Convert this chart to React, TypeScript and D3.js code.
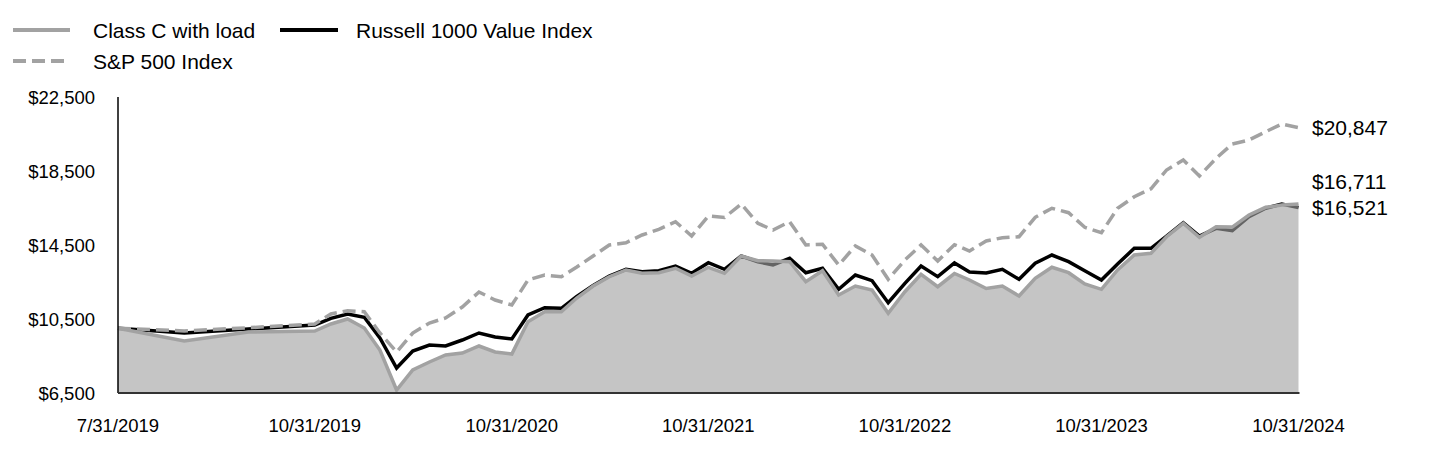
import React from "react";
import * as d3 from "d3";

const seriesNames = ["Class C with load", "Russell 1000 Value Index", "S&P 500 Index"];

// month-end values, 7/31/2019 .. 10/31/2024
const classC = [
  10000, 9311, 9797, 9851, 10230, 10500, 10014, 8824, 6662, 7743, 8176, 8554, 8662, 9041, 8716, 8608,
  10354, 10895, 10895, 11619, 12284, 12786, 13149, 12970, 13003, 13241, 12824, 13295, 12970, 13905,
  13651, 13635, 13597, 12516, 13111, 11797, 12284, 12068, 10808, 11976, 12916, 12246, 12959, 12608,
  12149, 12284, 11743, 12700, 13295, 13003, 12392, 12105, 13149, 13959, 14051, 14949, 15673, 14916,
  15489, 15470, 16122, 16538, 16662, 16711,
];
const russell = [
  10000, 9743, 9959, 10176, 10538, 10770, 10592, 9473, 7851, 8770, 9095, 9041, 9365, 9743, 9527, 9419,
  10716, 11111, 11078, 11705, 12311, 12824, 13186, 13057, 13111, 13365, 12970, 13543, 13186, 13905,
  13597, 13419, 13781, 13003, 13241, 12105, 12878, 12570, 11381, 12430, 13365, 12786, 13527, 13041,
  12986, 13186, 12646, 13511, 13959, 13597, 13111, 12608, 13473, 14322, 14322, 14986, 15705, 14986,
  15403, 15273, 16030, 16484, 16716, 16521,
];
const sp500 = [
  10000, 9851, 10030, 10230, 10770, 10949, 10895, 9743, 8716, 9743, 10284, 10554, 11149, 11959, 11527,
  11257, 12608, 12878, 12786, 13295, 13905, 14500, 14624, 15041, 15349, 15759, 14986, 16068, 15986,
  16716, 15673, 15311, 15759, 14500, 14538, 13419, 14446, 13959, 12646, 13689, 14500, 13635, 14516,
  14176, 14716, 14895, 14949, 15997, 16484, 16246, 15457, 15165, 16484, 17111, 17538, 18554, 19095,
  18230, 19186, 19959, 20176, 20624, 21041, 20847,
];

const xTickLabels = ["7/31/2019", "10/31/2019", "10/31/2020", "10/31/2021", "10/31/2022", "10/31/2023", "10/31/2024"];
const yTickValues = [6500, 10500, 14500, 18500, 22500];

const FONT = "'Liberation Sans', Arial, Helvetica, sans-serif";
const GRAY = "#a2a2a2";
const W = 1440;
const H = 468;
const left = 118;
const right = 1298.5;
const top = 97;
const bottom = 393;

export default function App() {
  const parse = d3.timeParse("%m/%d/%Y");
  const tickDates = xTickLabels.map((s) => parse(s) as Date);
  // month-end dates from 7/31/2019 to 10/31/2024
  const dates = d3
    .timeMonth.range(new Date(2019, 7, 1), new Date(2024, 10, 2))
    .map((d) => d3.timeDay.offset(d, -1));

  const x = d3
    .scaleTime()
    .domain([tickDates[0], tickDates[1], tickDates[tickDates.length - 1]])
    .range([left, left + (right - left) / 6, right]);
  const y = d3.scaleLinear().domain([6500, 22500]).range([bottom, top]);

  const line = d3
    .line<number>()
    .x((_, i) => x(dates[i]))
    .y((v) => y(v));
  const area = d3
    .area<number>()
    .x((_, i) => x(dates[i]))
    .y0(y(6500))
    .y1((v) => y(v));

  const fmt = (v: number) => "$" + d3.format(",")(v);

  // end labels with simple collision avoidance (push upper label up)
  const ends = [
    { v: classC[classC.length - 1] },
    { v: russell[russell.length - 1] },
    { v: sp500[sp500.length - 1] },
  ]
    .map((e) => ({ ...e, y: y(e.v) }))
    .sort((a, b) => b.y - a.y);
  for (let i = 1; i < ends.length; i++) {
    if (ends[i - 1].y - ends[i].y < 26) ends[i].y = ends[i - 1].y - 26;
  }

  return (
    <svg
      width={W}
      height={H}
      style={{ position: "absolute", left: 0, top: 0, background: "#fff" }}
      fontFamily={FONT}
    >
      {/* legend */}
      <g fontSize={21} fill="#000">
        <line x1={13} x2={70} y1={30} y2={30} stroke={GRAY} strokeWidth={4} />
        <text x={93} y={30} dominantBaseline="central">{seriesNames[0]}</text>
        <line x1={280} x2={338} y1={30} y2={30} stroke="#000" strokeWidth={4} />
        <text x={356} y={30} dominantBaseline="central">{seriesNames[1]}</text>
        <line x1={13} x2={70} y1={61} y2={61} stroke={GRAY} strokeWidth={4} strokeDasharray="13,6" />
        <text x={93} y={61} dominantBaseline="central">{seriesNames[2]}</text>
      </g>

      {/* y axis labels */}
      <g fontSize={18.5} textAnchor="end">
        {yTickValues.map((v) => (
          <text key={v} x={95} y={y(v)} dominantBaseline="central">
            {fmt(v)}
          </text>
        ))}
      </g>

      {/* series */}
      <path d={line(russell) || ""} fill="none" stroke="#000" strokeWidth={3.5} />
      <path d={area(classC) || ""} fill="#a1a1a1" fillOpacity={0.62} />
      <path d={line(classC) || ""} fill="none" stroke={GRAY} strokeWidth={3.5} />
      <path d={line(sp500) || ""} fill="none" stroke={GRAY} strokeWidth={3.5} strokeDasharray="13,6" />

      {/* axes */}
      <line x1={left} x2={left} y1={top} y2={bottom} stroke="#000" strokeWidth={1.5} />
      <line x1={left} x2={right + 1} y1={bottom} y2={bottom} stroke="#333" strokeWidth={2} />

      {/* x tick labels */}
      <g fontSize={18.5} textAnchor="middle">
        {tickDates.map((d, i) => (
          <text key={i} x={x(d)} y={425} dominantBaseline="central">
            {xTickLabels[i]}
          </text>
        ))}
      </g>

      {/* end labels */}
      <g fontSize={21}>
        {ends.map((e, i) => (
          <text key={i} x={1312} y={e.y} dominantBaseline="central">
            {fmt(e.v)}
          </text>
        ))}
      </g>
    </svg>
  );
}
